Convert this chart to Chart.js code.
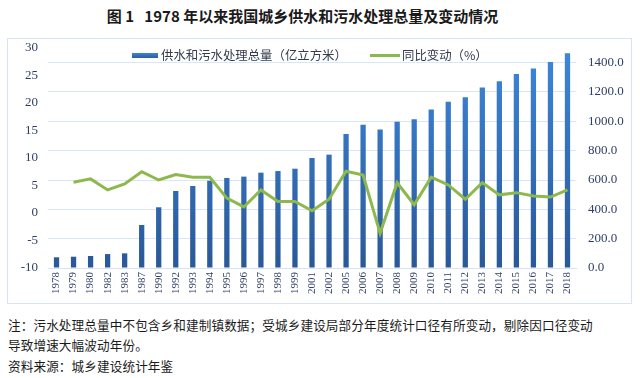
<!DOCTYPE html>
<html>
<head>
<meta charset="utf-8">
<script src="https://cdn.jsdelivr.net/npm/chart.js@4/dist/chart.umd.min.js"></script>
<style>
  html,body{margin:0;padding:0;background:#fff;}
  body{width:640px;height:378px;position:relative;overflow:hidden;font-family:"Noto Sans CJK SC","Noto Sans",sans-serif;}
  #title{position:absolute;left:0;width:605px;top:5px;text-align:center;font-size:15px;font-weight:bold;color:#1a1a1a;white-space:pre;font-family:"Noto Sans CJK SC","Liberation Serif",serif;}
  #frame{position:absolute;left:7px;top:38px;width:623px;height:264px;border:1px solid #d6e4f4;}
  #wrap{position:absolute;left:8px;top:39px;width:623px;height:264px;}
  .leg{position:absolute;font-size:12.4px;color:#333c4e;top:46px;white-space:nowrap;}
  .note{position:absolute;left:8px;font-size:12.6px;color:#1a1a1a;white-space:nowrap;letter-spacing:0.12px;}
</style>
</head>
<body>
<div id="title">图 1   1978 年以来我国城乡供水和污水处理总量及变动情况</div>
<div id="frame"></div>
<div id="wrap"><canvas id="c" width="623" height="264"></canvas></div>
<div style="position:absolute;left:132px;top:53px;width:26px;height:5px;background:linear-gradient(#3c85d9,#2b5c9e);"></div>
<div class="leg" style="left:161px;">供水和污水处理总量（亿立方米）</div>
<div style="position:absolute;left:370px;top:54px;width:30px;height:3px;background:#8db84b;"></div>
<div class="leg" style="left:402px;">同比变动（%）</div>
<div class="note" style="top:315px;">注：污水处理总量中不包含乡和建制镇数据；受城乡建设局部分年度统计口径有所变动，剔除因口径变动</div>
<div class="note" style="top:335px;">导致增速大幅波动年份。</div>
<div class="note" style="top:356px;">资料来源：城乡建设统计年鉴</div>
<script>
const years = ["1978","1979","1980","1982","1983","1987","1990","1992","1993","1994","1995","1996","1997","1998","1999","2001","2002","2005","2006","2007","2008","2009","2010","2011","2012","2013","2014","2015","2016","2017","2018"];
const totalVolume = [73,77,82,95,100,293,414,525,559,595,614,623,650,661,677,750,773,914,977,945,998,1014,1080,1134,1164,1230,1273,1323,1361,1405,1464];
const yoyChange = [null,5.6,6.2,4.2,5.3,7.5,6.0,7.0,6.5,6.5,2.7,1.1,4.2,2.1,2.1,0.4,2.5,7.6,6.9,-3.7,5.5,1.5,6.5,5.1,2.5,5.5,3.3,3.7,3.1,2.9,4.2];
const leftTicks = [-10,-5,0,5,10,15,20,25,30];
const rightTicks = [0,200,400,600,800,1000,1200,1400];

const tickColor = '#2e3e64';
const serif = "'Liberation Serif','DejaVu Serif',serif";

new Chart(document.getElementById('c'), {
  data: {
    labels: years,
    datasets: [
      {
        type: 'line',
        label: '同比变动（%）',
        data: yoyChange,
        yAxisID: 'y',
        borderColor: '#8db84b',
        borderWidth: 3,
        pointRadius: 0,
        tension: 0,
        spanGaps: false,
        order: 0
      },
      {
        type: 'bar',
        label: '供水和污水处理总量（亿立方米）',
        data: totalVolume,
        yAxisID: 'y1',
        backgroundColor: (ctx) => {
          const ch = ctx.chart; const area = ch.chartArea;
          if (!area) return '#2e6db5';
          const g = ch.ctx.createLinearGradient(0, area.top, 0, area.bottom);
          g.addColorStop(0, '#3d87db');
          g.addColorStop(1, '#2a5898');
          return g;
        },
        barPercentage: 0.62,
        categoryPercentage: 0.5,
        order: 1
      }
    ]
  },
  options: {
    responsive: false,
    animation: false,
    layout: {padding: {top: 2, left: 0, right: 0, bottom: 0}},
    plugins: {legend: {display: false}, tooltip: {enabled: false}},
    scales: {
      x: {
        offset: true,
        grid: {display: false, drawTicks: false},
        border: {display: true, color: '#d6e4f4', width: 1},
        ticks: {color: tickColor, font: {family: serif, size: 11}, maxRotation: 90, minRotation: 90, padding: 4, autoSkip: false},
        afterFit: (s) => { s.height = 35; }
      },
      y: {
        position: 'left',
        min: -10, max: 30,
        grid: {display: false, drawTicks: false},
        border: {display: false},
        ticks: {color: tickColor, font: {family: serif, size: 13}, padding: 10, stepSize: 5},
        afterBuildTicks: (s) => { s.ticks = leftTicks.map(v => ({value: v})); },
        afterFit: (s) => { s.width = 40; s.paddingTop = 9; }
      },
      y1: {
        position: 'right',
        min: 0, max: 1500,
        grid: {color: '#d9e6f4', lineWidth: 1, drawTicks: false},
        border: {display: false},
        ticks: {color: tickColor, font: {family: serif, size: 13}, padding: 12, callback: (v) => Number(v).toFixed(1)},
        afterBuildTicks: (s) => { s.ticks = rightTicks.map(v => ({value: v})); },
        afterFit: (s) => { s.width = 55; s.paddingTop = 9; }
      }
    }
  }
});
</script>
</body>
</html>
